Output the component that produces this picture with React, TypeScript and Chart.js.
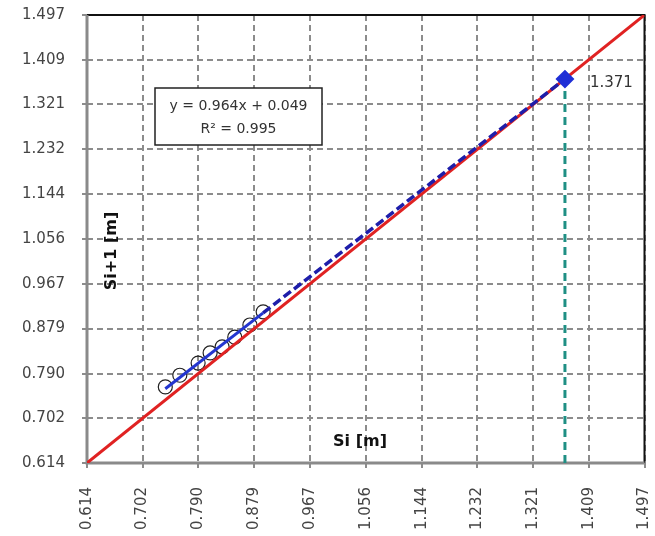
import React, { useEffect, useRef } from "react";
import { Chart, registerables } from "chart.js";

Chart.register(...registerables);

// Axis range and tick labels (both axes share the same scale)
const AXIS_MIN = 0.614;
const AXIS_MAX = 1.497;
const TICKS = [0.614, 0.702, 0.79, 0.879, 0.967, 1.056, 1.144, 1.232, 1.321, 1.409, 1.497];

// Measured settlement pairs S(i) -> S(i+1)
const SI = [0.738, 0.761, 0.79, 0.809, 0.828, 0.848, 0.872, 0.893];
const SI_NEXT = [0.764, 0.787, 0.811, 0.831, 0.843, 0.862, 0.886, 0.912];

// Linear fit and forecast of the final settlement
const SLOPE = 0.964;
const INTERCEPT = 0.049;
const R_SQUARED = 0.995;
const FINAL_S = 1.371;

const FONT = "'DejaVu Sans', sans-serif";

const fit = (x: number) => SLOPE * x + INTERCEPT;

export default function App() {
  const canvasRef = useRef<HTMLCanvasElement | null>(null);

  useEffect(() => {
    const canvas = canvasRef.current;
    if (!canvas) return;

    const firstX = Math.min(...SI);
    const lastX = Math.max(...SI);

    const overlay = {
      id: "overlay",
      beforeDraw(chart: any) {
        const { ctx, width, height } = chart;
        ctx.save();
        ctx.fillStyle = "#ffffff";
        ctx.fillRect(0, 0, width, height);
        ctx.restore();
      },
      beforeDatasetsDraw(chart: any) {
        const { ctx, chartArea: a } = chart;
        ctx.save();
        // top / right frame
        ctx.strokeStyle = "#111111";
        ctx.lineWidth = 2;
        ctx.beginPath();
        ctx.moveTo(a.left, a.top);
        ctx.lineTo(a.right, a.top);
        ctx.lineTo(a.right, a.bottom);
        ctx.stroke();
        // value axes
        ctx.strokeStyle = "#8a8a8a";
        ctx.lineWidth = 3;
        ctx.beginPath();
        ctx.moveTo(a.left, a.top);
        ctx.lineTo(a.left, a.bottom);
        ctx.lineTo(a.right, a.bottom);
        ctx.stroke();
        ctx.restore();
      },
      afterDraw(chart: any) {
        const { ctx, chartArea: a, scales } = chart;
        ctx.save();

        // regression equation box
        const bx = a.left + 68;
        const by = a.top + 73;
        const bw = 167;
        const bh = 57;
        ctx.fillStyle = "#ffffff";
        ctx.fillRect(bx, by, bw, bh);
        ctx.strokeStyle = "#222222";
        ctx.lineWidth = 1.5;
        ctx.strokeRect(bx, by, bw, bh);
        ctx.fillStyle = "#333333";
        ctx.font = `14px ${FONT}`;
        ctx.textAlign = "center";
        ctx.textBaseline = "middle";
        ctx.fillText(
          `y = ${SLOPE.toFixed(3)}x + ${INTERCEPT.toFixed(3)}`,
          bx + bw / 2,
          by + 18
        );
        ctx.fillText(`R² = ${R_SQUARED.toFixed(3)}`, bx + bw / 2, by + 41);

        // forecast value label
        const px = scales.x.getPixelForValue(FINAL_S);
        const py = scales.y.getPixelForValue(fit(FINAL_S));
        ctx.textAlign = "left";
        ctx.font = `15px ${FONT}`;
        ctx.fillText(FINAL_S.toFixed(3), px + 25, py + 4);

        // axis titles inside the plot
        ctx.fillStyle = "#111111";
        ctx.font = `bold 16px ${FONT}`;
        ctx.textAlign = "center";
        ctx.fillText("Si [m]", a.left + 273, a.bottom - 21);
        ctx.save();
        ctx.translate(a.left + 25, a.top + 236);
        ctx.rotate(-Math.PI / 2);
        ctx.fillText("Si+1 [m]", 0, 0);
        ctx.restore();

        ctx.restore();
      },
    };

    const tickLabel = (v: any) => Number(v).toFixed(3);
    const setTicks = (scale: any) => {
      scale.ticks = TICKS.map((v) => ({ value: v }));
    };
    const noPadding = (s: any) => {
      s.paddingLeft = 0;
      s.paddingRight = 0;
      s.paddingTop = 0;
      s.paddingBottom = 0;
    };

    const gridOpts = {
      color: "#8c8c8c",
      lineWidth: 2,
      tickLength: 5,
      tickColor: "#8c8c8c",
      tickWidth: 2,
      tickBorderDash: [],
    };

    const chart = new Chart(canvas, {
      type: "scatter",
      data: {
        datasets: [
          {
            label: "trend",
            data: [
              { x: firstX, y: fit(firstX) },
              { x: lastX, y: fit(lastX) },
            ],
            showLine: true,
            borderColor: "#2436d0",
            borderWidth: 3,
            pointRadius: 0,
          },
          {
            label: "forecast",
            data: [
              { x: lastX, y: fit(lastX) },
              { x: FINAL_S, y: fit(FINAL_S) },
            ],
            showLine: true,
            borderColor: "#1e1eaa",
            borderWidth: 3.5,
            borderDash: [9, 4],
            pointRadius: [0, 7],
            pointStyle: "rectRot",
            pointBackgroundColor: "#1f2fd6",
            pointBorderColor: "#1f2fd6",
          },
          {
            label: "S = S",
            data: [
              { x: AXIS_MIN, y: AXIS_MIN },
              { x: AXIS_MAX, y: AXIS_MAX },
            ],
            showLine: true,
            borderColor: "#e02222",
            borderWidth: 3,
            pointRadius: 0,
          },
          {
            label: "Si+1",
            data: SI.map((x, i) => ({ x, y: SI_NEXT[i] })),
            pointRadius: 7,
            pointBorderWidth: 1.2,
            pointBorderColor: "#222222",
            pointBackgroundColor: "rgba(255,255,255,0)",
          },
          {
            label: "final",
            data: [
              { x: FINAL_S, y: AXIS_MIN },
              { x: FINAL_S, y: fit(FINAL_S) },
            ],
            showLine: true,
            borderColor: "#1f8f84",
            borderWidth: 3,
            borderDash: [8, 5],
            pointRadius: 0,
          },
        ],
      },
      options: {
        animation: false,
        responsive: false,
        layout: { padding: { left: 0, top: 15, right: 10, bottom: 0 } },
        plugins: {
          legend: { display: false },
          tooltip: { enabled: false },
        },
        scales: {
          x: {
            type: "linear",
            min: AXIS_MIN,
            max: AXIS_MAX,
            afterBuildTicks: setTicks,
            afterFit: (s: any) => {
              s.height = 73;
              noPadding(s);
            },
            grid: gridOpts,
            border: { display: false, dash: [6, 4] },
            ticks: {
              autoSkip: false,
              maxRotation: 90,
              minRotation: 90,
              padding: 19,
              color: "#444444",
              font: { family: FONT, size: 15 },
              callback: tickLabel,
            },
          },
          y: {
            type: "linear",
            min: AXIS_MIN,
            max: AXIS_MAX,
            afterBuildTicks: setTicks,
            afterFit: (s: any) => {
              s.width = 87;
              noPadding(s);
            },
            grid: gridOpts,
            border: { display: false, dash: [6, 4] },
            ticks: {
              autoSkip: false,
              padding: 17,
              color: "#444444",
              font: { family: FONT, size: 15 },
              callback: tickLabel,
            },
          },
        },
      },
      plugins: [overlay],
    } as any);

    return () => chart.destroy();
  }, []);

  return (
    <div style={{ position: "fixed", left: 0, top: 0, width: 655, height: 536 }}>
      <canvas ref={canvasRef} width={655} height={536} />
    </div>
  );
}
